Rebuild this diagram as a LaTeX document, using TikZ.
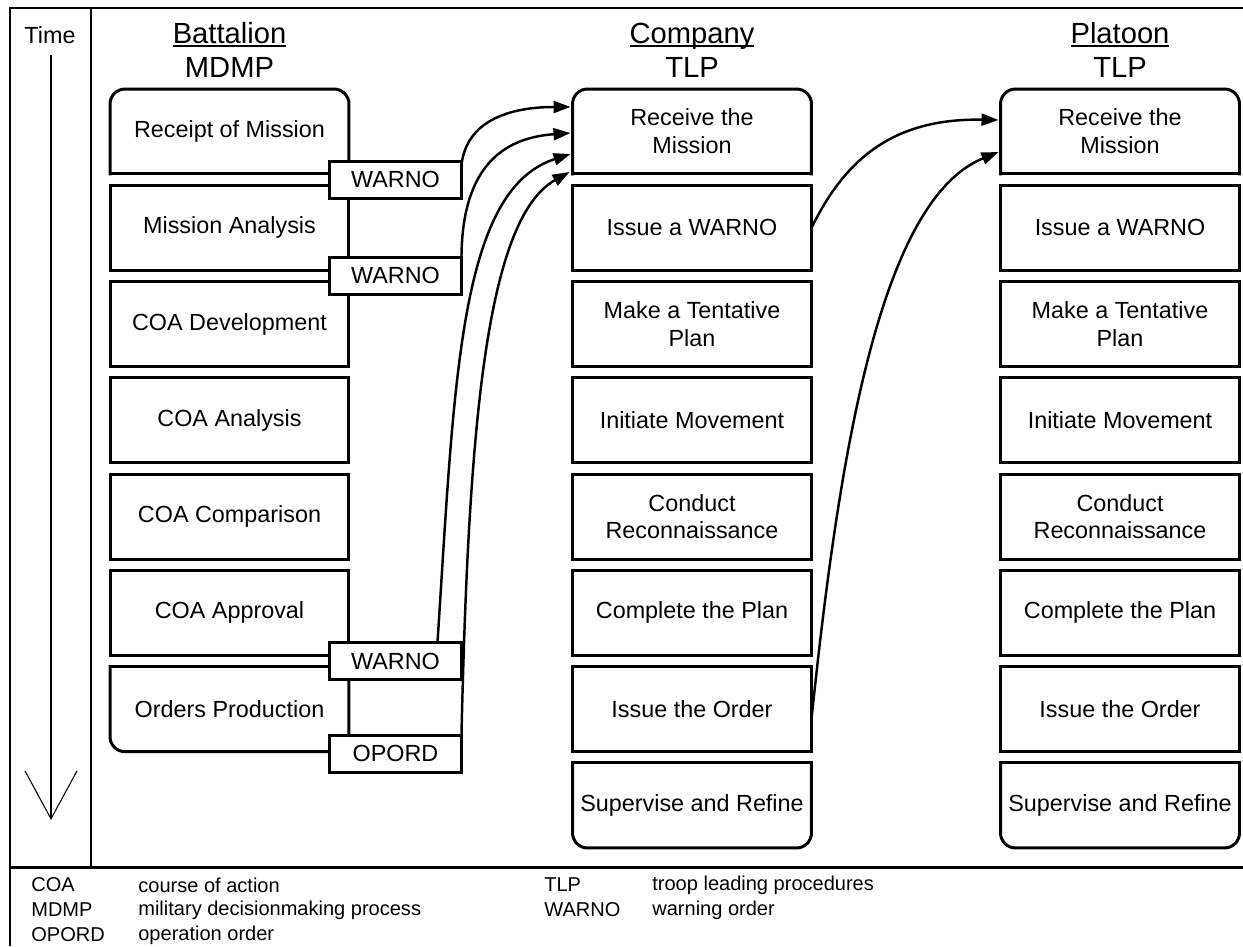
\documentclass[tikz,border=0pt]{standalone}
\usepackage{fontspec}
\setmainfont{Liberation Sans}
\usetikzlibrary{arrows.meta, positioning, calc}
\newcommand{\headul}[1]{\setbox0=\hbox{#1}\rlap{\rule[-0.12em]{\wd0}{0.07em}}\box0}
\tikzset{
	stage/.style={rectangle, draw=black, fill=white, line width=1.7pt, align=center, minimum width=4.78cm, minimum height=1.7cm, inner sep=1pt, outer sep=0pt, font=\fontsize{13.3}{15.9}\selectfont},
	stageopen/.style={stage, draw=none},
	order/.style={rectangle, draw=black, fill=white, line width=1.7pt, minimum width=2.64cm, minimum height=0.74cm, inner sep=0pt, outer sep=0pt, font=\fontsize{13.3}{15.9}\selectfont},
	outline/.style={line width=1.7pt, line cap=rect, rounded corners=0.3cm},
	heading/.style={align=center, font=\fontsize{16.6}{19.3}\selectfont},
	timetext/.style={font=\fontsize{13.3}{15.9}\selectfont},
	legend/.style={anchor=west, inner sep=0pt, font=\fontsize{11.4}{14}\selectfont},
	frame/.style={line width=1.7pt},
	arrow/.style={-{Triangle[length=0.34cm, width=0.24cm]}, line width=1.4pt},
	timearrow/.style={-{Straight Barb[length=0.96cm, width=1.04cm]}, line width=0.6pt},
}
\begin{document}
\begin{tikzpicture}[x=0.02cm, y=-0.02cm, node distance=0.226cm]
	\useasboundingbox (0,0) rectangle (1243,946);
	% frame
	\draw[frame] (1243,8) -- (10,8) -- (10,946);
	\draw[frame] (10,867) -- (1243,867);
	\draw[frame] (91,8) -- (91,867);
	% time axis
	\node[timetext] (time) at (50,35) {Time};
	\coordinate (tstart) at (51,55);
	\coordinate (tend) at (51,820);
	\draw[timearrow] (tstart) -- (tend);
	% headings
	\node[heading] (bathead) at (229.5,50) {\headul{Battalion}\\MDMP};
	\node[heading] (cohead) at (692,50) {\headul{Company}\\TLP};
	\node[heading] (plhead) at (1120,50) {\headul{Platoon}\\TLP};
	% battalion MDMP
	\node[stageopen] (rom) at (229.5,131.5) {Receipt of Mission};
	\node[stage, below=of rom] (ma) {Mission Analysis};
	\node[stage, below=of ma] (cd) {COA Development};
	\node[stage, below=of cd] (can) {COA Analysis};
	\node[stage, below=of can] (cc) {COA Comparison};
	\node[stage, below=of cc] (capp) {COA Approval};
	\node[stageopen, below=of capp] (op) {Orders Production};
	% company TLP
	\node[stageopen] (crm) at (692,131.5) {Receive the\\Mission};
	\node[stage, below=of crm] (cwo) {Issue a WARNO};
	\node[stage, below=of cwo] (ctp) {Make a Tentative\\Plan};
	\node[stage, below=of ctp] (cim) {Initiate Movement};
	\node[stage, below=of cim] (ccr) {Conduct\\Reconnaissance};
	\node[stage, below=of ccr] (ccp) {Complete the Plan};
	\node[stage, below=of ccp] (cio) {Issue the Order};
	\node[stageopen, below=of cio] (csr) {Supervise and Refine};
	% platoon TLP
	\node[stageopen] (prm) at (1120,131.5) {Receive the\\Mission};
	\node[stage, below=of prm] (pwo) {Issue a WARNO};
	\node[stage, below=of pwo] (ptp) {Make a Tentative\\Plan};
	\node[stage, below=of ptp] (pim) {Initiate Movement};
	\node[stage, below=of pim] (pcr) {Conduct\\Reconnaissance};
	\node[stage, below=of pcr] (pcp) {Complete the Plan};
	\node[stage, below=of pcp] (pio) {Issue the Order};
	\node[stageopen, below=of pio] (psr) {Supervise and Refine};
	% rounded ends of the columns
	\foreach \n in {rom, crm, prm} {
		\draw[outline] (\n.south west) -- (\n.north west) -- (\n.north east) -- (\n.south east);
		\draw[outline] (\n.south west) -- (\n.south east);
	}
	\foreach \n in {op, csr, psr} {
		\draw[outline] (\n.north west) -- (\n.south west) -- (\n.south east) -- (\n.north east);
		\draw[outline] (\n.north west) -- (\n.north east);
	}
	% orders issued by battalion
	\node[order] (w1) at ($(rom.south east)!0.5!(ma.north east)+(46.5,0)$) {WARNO};
	\node[order] (w2) at ($(ma.south east)!0.5!(cd.north east)+(46.5,0)$) {WARNO};
	\node[order] (w3) at ($(capp.south east)!0.5!(op.north east)+(46.5,0)$) {WARNO};
	\node[order] (opord) at ($(op.south east)+(46.5,2)$) {OPORD};
	% orders flow
	\draw[arrow] ($(w1.north east)+(0,4)$) .. controls +(5,-45) and +(-60,0) .. ($(crm.west)+(-2,-24.5)$);
	\draw[arrow] ($(w2.north east)+(0,2)$) .. controls +(0,-90) and +(-70,5) .. ($(crm.west)+(-2,1.5)$);
	\draw[arrow] (w3.north) ++(42,0) .. controls +(17,-260) and +(-112,36) .. ($(crm.west)+(-2,22.5)$);
	\draw[arrow] (opord.north east) .. controls +(7,-305) and +(-84,47) .. ($(crm.south west)+(-3,-2)$);
	\draw[arrow] (cwo.east) .. controls +(33,-67) and +(-107,-2) .. ($(prm.west)+(-2,-11.5)$);
	\draw[arrow] ($(cio.east)+(0,10)$) .. controls +(28,-269) and +(-118,48) .. ($(prm.west)+(-2,20.5)$);
	% legend
	\node[legend] (lcoa) at (31,885) {COA};
	\node[legend] (lcoad) at (138,885) {course of action};
	\node[legend] (lmdmp) at (31,910) {MDMP};
	\node[legend] (lmdmpd) at (138,910) {military decisionmaking process};
	\node[legend] (lopord) at (31,935) {OPORD};
	\node[legend] (lopordd) at (138,935) {operation order};
	\node[legend] (ltlp) at (544,885) {TLP};
	\node[legend] (ltlpd) at (652,885) {troop leading procedures};
	\node[legend] (lwarno) at (544,910) {WARNO};
	\node[legend] (lwarnod) at (652,910) {warning order};
\end{tikzpicture}
\end{document}
